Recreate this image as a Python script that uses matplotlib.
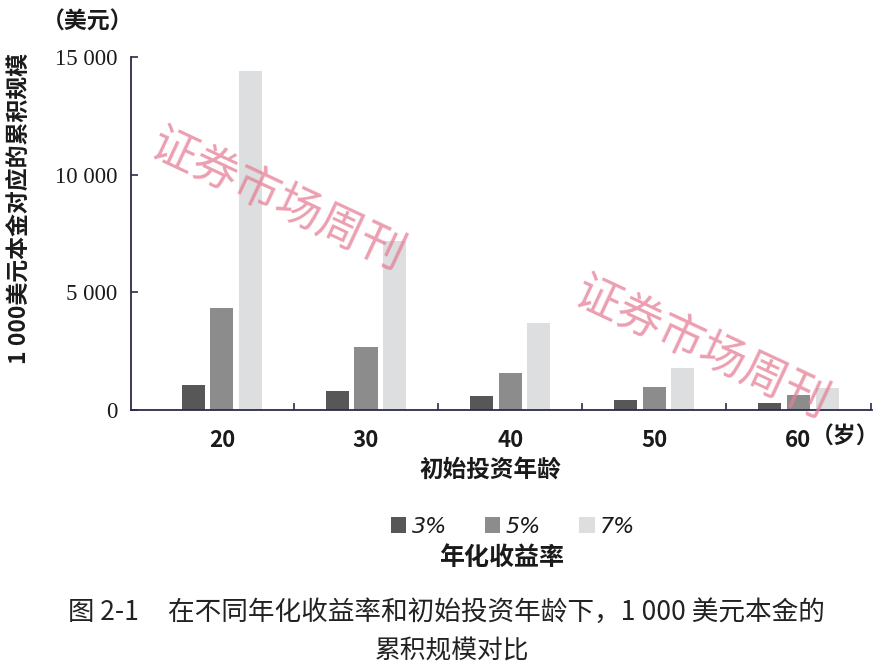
import numpy as np
import matplotlib
matplotlib.use('Agg')
import matplotlib.pyplot as plt
from matplotlib.patches import Patch

plt.rcParams['font.family'] = ['Noto Sans CJK SC', 'DejaVu Sans']

# data
ages = ['20', '30', '40', '50', '60']
rates = ['3%', '5%', '7%']
v3 = [1060, 800, 600, 420, 300]
v5 = [4330, 2680, 1570, 980, 640]
v7 = [14400, 7200, 3700, 1790, 930]
yticks = [0, 5000, 10000, 15000]
ytick_labels = ['0', '5 000', '10 000', '15 000']

colors = ['#575757', '#8c8c8c', '#dcdee0']
spine = '#2d2a4a'
txt = '#1a1a1a'

fig = plt.figure(figsize=(8.9, 6.68), dpi=100)
ax = fig.add_axes([0.1472, 0.3862, 0.8326, 0.5285])

x = np.arange(len(ages))
step = 0.198
w = 0.16
for i, vals in enumerate([v3, v5, v7]):
    ax.bar(x + (i - 1) * step, vals, width=w, color=colors[i], label=rates[i], zorder=2)

ax.set_xlim(-0.63, 4.51)
ax.set_ylim(0, 15000)
ax.set_yticks(yticks)
ax.set_yticklabels(ytick_labels, family='Liberation Serif', fontsize=16.5, color=txt)
ax.set_xticks(x)
ax.set_xticklabels(ages, fontsize=16, fontweight='bold', color=txt)
ax.set_xticks(x + 0.5, minor=True)
ax.tick_params(axis='x', which='major', length=0, pad=14)
ax.tick_params(axis='x', which='minor', direction='in', length=5, width=1.2, color=spine)
ax.tick_params(axis='y', direction='in', length=5, width=1.2, color=spine, pad=10)

for s in ['top', 'right']:
    ax.spines[s].set_visible(False)
for s in ['left', 'bottom']:
    ax.spines[s].set_color(spine)
    ax.spines[s].set_linewidth(1.3)

# axis texts
fig.text(88 / 890, 1 - 22 / 668, '（美元）', fontsize=16.5, fontweight='bold', color=txt,
         ha='center', va='center')
fig.text(845 / 890, 1 - 437 / 668, '（岁）', fontsize=16.5, fontweight='bold', color=txt,
         ha='center', va='center')
fig.text(20 / 890, 1 - 209 / 668, '1 000美元本金对应的累积规模', fontsize=16.5, fontweight='bold',
         color=txt, rotation=90, ha='center', va='center')
fig.text(490 / 890, 1 - 470 / 668, '初始投资年龄', fontsize=17, fontweight='bold', color=txt,
         ha='center', va='center')

# legend
handles = [Patch(facecolor=c) for c in colors]
leg = fig.legend(handles, rates, loc='center', bbox_to_anchor=(513 / 890, 1 - 527 / 668), ncol=3,
                 frameon=False, handlelength=0.7, handleheight=0.7, handletextpad=0.25,
                 columnspacing=1.7, prop={'family': 'DejaVu Sans', 'style': 'italic', 'size': 16})
for t in leg.get_texts():
    t.set_color(txt)
fig.text(502 / 890, 1 - 558 / 668, '年化收益率', fontsize=18, fontweight='bold', color=txt,
         ha='center', va='center')

# caption
cap = '#222222'
fig.text(68 / 890, 1 - 612 / 668, '图 2-1', fontsize=19, color=cap, ha='left', va='center')
fig.text(168 / 890, 1 - 612 / 668, '在不同年化收益率和初始投资年龄下，1 000 美元本金的',
         fontsize=19.2, color=cap, ha='left', va='center')
fig.text(452 / 890, 1 - 651 / 668, '累积规模对比', fontsize=18.5, color=cap,
         ha='center', va='center')

# watermark
for cx, cy in [(278, 200), (702, 348)]:
    fig.text(cx / 890, 1 - cy / 668, '证券市场周刊', fontsize=33, color='#e57f96', alpha=0.75,
             rotation=-25, ha='center', va='center', rotation_mode='anchor', zorder=5)

fig.savefig('out.png', dpi=100, facecolor='white')
